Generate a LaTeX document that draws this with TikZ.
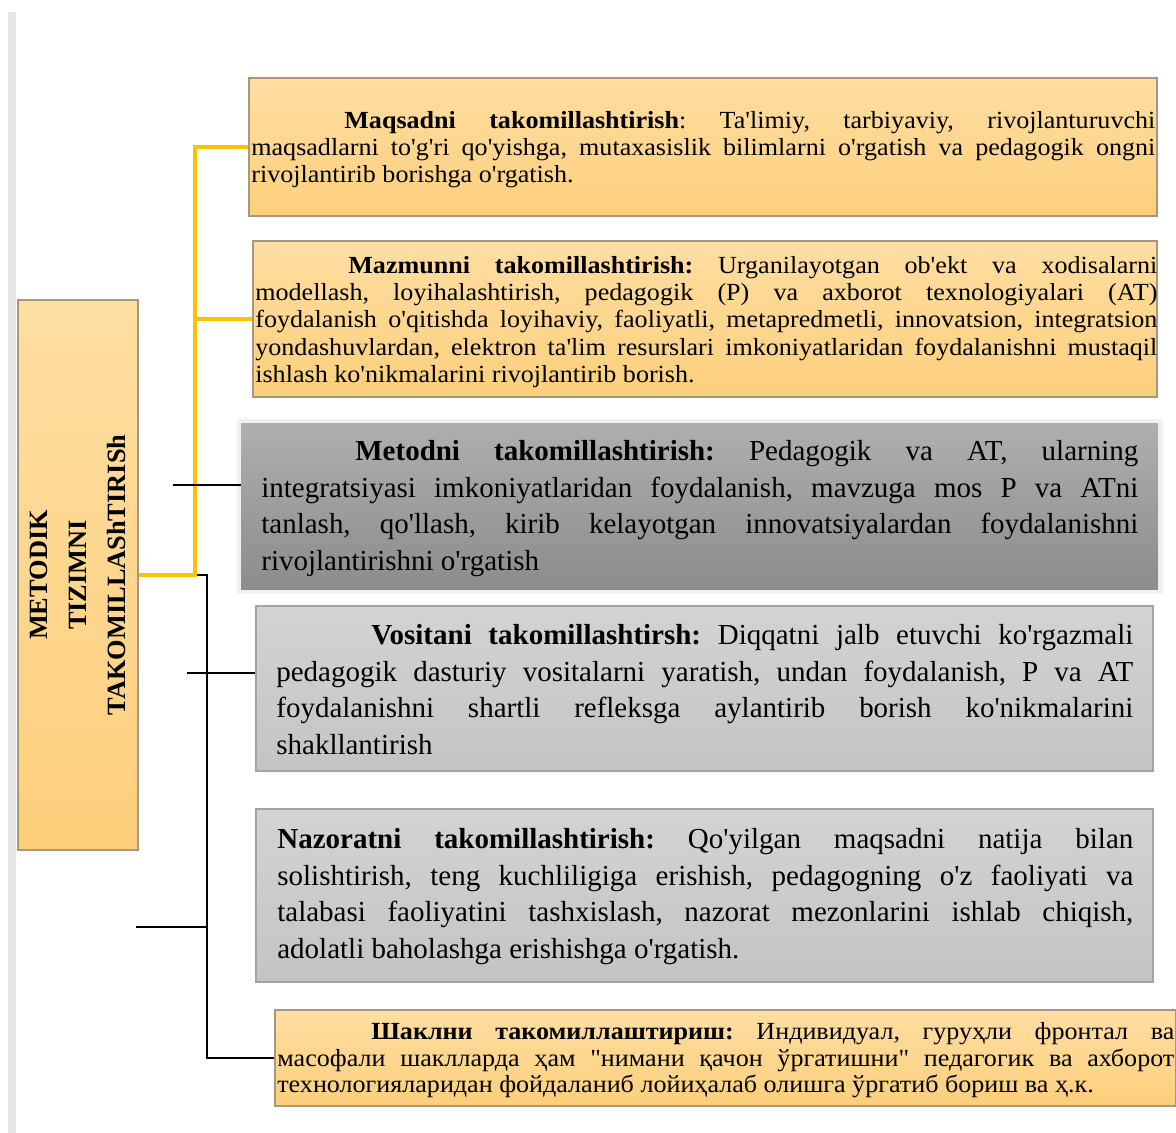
\documentclass[tikz,border=0pt]{standalone}
\usepackage{fontspec}
\newfontfamily\uzfont{Liberation Serif}
\newfontfamily\uzwide{Liberation Serif}[FakeStretch=1.06]
\definecolor{orgtop}{HTML}{FEDEA2}
\definecolor{orgbot}{HTML}{FDCF7C}
\definecolor{orgline}{HTML}{A8977E}
\definecolor{goldline}{HTML}{FFC000}
\definecolor{darktop}{HTML}{AFAFAF}
\definecolor{darkbot}{HTML}{8C8C8C}
\definecolor{lighttop}{HTML}{D3D3D3}
\definecolor{lightbot}{HTML}{C4C4C4}
\definecolor{greyline}{HTML}{A4A4A4}
\definecolor{stripgrey}{HTML}{E6E6E6}
\definecolor{glowgrey}{HTML}{F1F1F1}
\frenchspacing
\begin{document}
\begin{tikzpicture}[
    obox/.style={draw=orgline, line width=0.8pt, top color=orgtop, bottom color=orgbot},
    dbox/.style={draw=none, top color=darktop, bottom color=darkbot},
    lbox/.style={draw=greyline, line width=0.8pt, top color=lighttop, bottom color=lightbot},
    widetxt/.style={inner sep=0pt, anchor=north west, align=justify, font=\uzwide\fontsize{14}{15.6}\selectfont},
    bigtxt/.style={inner sep=0pt, anchor=north west, align=justify, font=\uzfont\fontsize{16.5}{21}\selectfont},
    goldcon/.style={draw=goldline, line width=2pt},
    blackcon/.style={draw=black, line width=1.4pt}
  ]
  \useasboundingbox (0,0) rectangle (23.52,-22.66);
  \fill[white] (0,0) rectangle (23.52,-22.66);
  \fill[stripgrey] (0.16,-0.24) rectangle (0.32,-22.66);

  % boxes
  \node[obox, minimum width=2.4cm, minimum height=11cm] (metodik) at (1.56,-11.5) {};
  \node[obox, minimum width=18.16cm, minimum height=2.76cm] (maqsad) at (14.06,-2.94) {};
  \node[obox, minimum width=18.08cm, minimum height=3.12cm] (mazmun) at (14.10,-6.38) {};
  \fill[glowgrey] (4.74,-8.38) rectangle (23.26,-11.88);
  \node[dbox, minimum width=18.34cm, minimum height=3.32cm] (metod) at (13.99,-10.12) {};
  \node[lbox, minimum width=17.94cm, minimum height=3.30cm] (vosita) at (14.09,-13.77) {};
  \node[lbox, minimum width=17.94cm, minimum height=3.46cm] (nazorat) at (14.09,-17.91) {};
  \node[obox, minimum width=18.02cm, minimum height=1.92cm] (shakl) at (14.51,-21.16) {};

  % texts
  \node[rotate=90, align=center, font=\uzfont\bfseries\fontsize{15}{22.4}\selectfont] (metodiktxt) at (1.56,-11.5) {METODIK\\TIZIMNI\\TAKOMILLAShTIRISh};
  \node[widetxt, text width=18.08cm] (maqsadtxt) at (5.02,-2.17) {\strut\hspace*{1.86cm}\textbf{Maqsadni takomillashtirish}: Ta'limiy, tarbiyaviy, rivojlanturuvchi\linebreak maqsadlarni to'g'ri qo'yishga, mutaxasislik bilimlarni o'rgatish va pedagogik ongni\linebreak rivojlantirib borishga o'rgatish.};
  \node[widetxt, text width=18.04cm] (mazmuntxt) at (5.10,-5.07) {\strut\hspace*{1.86cm}\textbf{Mazmunni takomillashtirish:} Urganilayotgan ob'ekt va xodisalarni\linebreak modellash, loyihalashtirish, pedagogik (P) va axborot texnologiyalari (AT)\linebreak foydalanish o'qitishda loyihaviy, faoliyatli, metapredmetli, innovatsion, integratsion\linebreak yondashuvlardan, elektron ta'lim resurslari imkoniyatlaridan foydalanishni mustaqil\linebreak ishlash ko'nikmalarini rivojlantirib borish.};
  \node[bigtxt, text width=17.54cm] (metodtxt) at (5.22,-8.68) {\strut\hspace*{1.88cm}\textbf{Metodni takomillashtirish:} Pedagogik va AT, ularning\linebreak integratsiyasi imkoniyatlaridan foydalanish, mavzuga mos P va ATni\linebreak tanlash, qo'llash, kirib kelayotgan innovatsiyalardan foydalanishni\linebreak rivojlantirishni o'rgatish};
  \node[bigtxt, text width=17.14cm] (vositatxt) at (5.52,-12.36) {\strut\hspace*{1.9cm}\textbf{Vositani takomillashtirsh:} Diqqatni jalb etuvchi ko'rgazmali\linebreak pedagogik dasturiy vositalarni yaratish, undan foydalanish, P va AT\linebreak foydalanishni shartli refleksga aylantirib borish ko'nikmalarini\linebreak shakllantirish};
  \node[bigtxt, text width=17.12cm] (nazorattxt) at (5.54,-16.44) {\strut\textbf{Nazoratni takomillashtirish:} Qo'yilgan maqsadni natija bilan\linebreak solishtirish, teng kuchliligiga erishish, pedagogning o'z faoliyati va\linebreak talabasi faoliyatini tashxislash, nazorat mezonlarini ishlab chiqish,\linebreak adolatli baholashga erishishga o'rgatish.};
  \node[widetxt, text width=17.94cm, font=\uzwide\fontsize{14}{15.3}\selectfont] (shakltxt) at (5.54,-20.40) {\strut\hspace*{1.88cm}\textbf{Шаклни такомиллаштириш:} Индивидуал, гуруҳли фронтал ва\linebreak масофали шаклларда ҳам "нимани қачон ўргатишни" педагогик ва ахборот\linebreak технологияларидан фойдаланиб лойиҳалаб олишга ўргатиб бориш ва ҳ.к.};

  % connectors
  \coordinate (trunk) at (3.90,-11.5);
  \draw[goldcon] (metodik.east) -- (trunk) |- (maqsad.west);
  \draw[goldcon] (trunk) |- (mazmun.west);
  \coordinate (spinestart) at (3.94,-11.5);
  \coordinate (spine) at (4.14,-11.5);
  \draw[blackcon] (spinestart) -- (spine) |- (shakl.west);
  \coordinate (stubA) at (3.46,-9.70);
  \draw[blackcon] (stubA) -- (stubA -| metod.west);
  \coordinate (stubB) at (3.74,-13.46);
  \draw[blackcon] (stubB) -- (stubB -| vosita.west);
  \coordinate (stubC) at (2.72,-18.54);
  \draw[blackcon] (stubC) -- (stubC -| spine);
\end{tikzpicture}
\end{document}
